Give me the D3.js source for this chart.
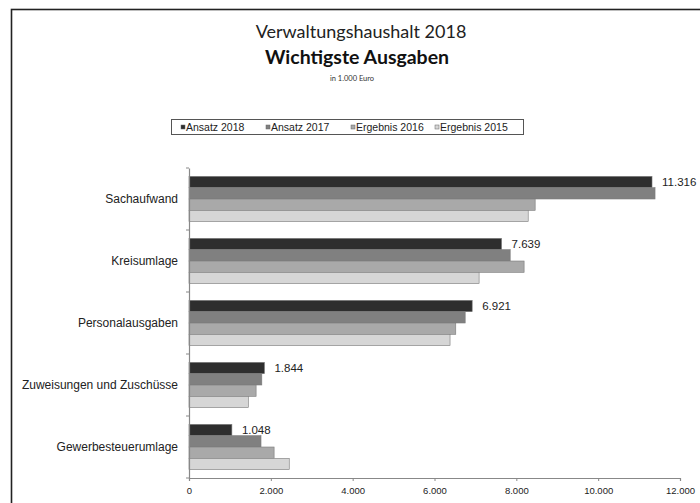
<!DOCTYPE html>
<html>
<head>
<meta charset="utf-8">
<script src="https://cdn.jsdelivr.net/npm/d3@7"></script>
<style>
  body { margin: 0; background: #fff; overflow: hidden; }
  svg { display: block; }
</style>
</head>
<body>
<div id="chart"></div>
<script>
// ---- data (in 1.000 Euro) ----
var categories = ["Sachaufwand", "Kreisumlage", "Personalausgaben", "Zuweisungen und Zuschüsse", "Gewerbesteuerumlage"];
var seriesNames = ["Ansatz 2018", "Ansatz 2017", "Ergebnis 2016", "Ergebnis 2015"];
var ansatz2018 = [11316, 7639, 6921, 1844, 1048];
var ansatz2017 = [11390, 7850, 6750, 1780, 1760];
var ergebnis2016 = [8460, 8190, 6520, 1640, 2080];
var ergebnis2015 = [8290, 7090, 6380, 1450, 2450];
var xTicks = [0, 2000, 4000, 6000, 8000, 10000, 12000];

var seriesValues = [ansatz2018, ansatz2017, ergebnis2016, ergebnis2015];
var seriesColors = ["#2e2e2e", "#808080", "#a9a9a9", "#d6d6d6"];

var svgWidth = 700, svgHeight = 503;
var margin = { top: 168, right: 20, bottom: 25, left: 189 };
var width = 680 - margin.left;
var height = 478 - margin.top;

var svg = d3.select("#chart").append("svg")
  .attr("width", svgWidth).attr("height", svgHeight);

// outer frame (runs off the right / bottom edge)
svg.append("rect")
  .attr("x", 11.5).attr("y", 9.5)
  .attr("width", 900).attr("height", 700)
  .attr("fill", "none").attr("stroke", "#222").attr("stroke-width", 1.6);

// titles
var titleFont = "Lato, 'Open Sans', sans-serif";
svg.append("text").attr("x", 361).attr("y", 38).attr("text-anchor", "middle")
  .style("font-family", titleFont).style("font-size", "18px").attr("fill", "#222")
  .text("Verwaltungshaushalt 2018");
svg.append("text").attr("x", 357).attr("y", 64).attr("text-anchor", "middle")
  .style("font-family", titleFont).style("font-size", "19.5px").style("font-weight", "bold").attr("fill", "#111")
  .text("Wichtigste Ausgaben");
svg.append("text").attr("x", 352).attr("y", 81).attr("text-anchor", "middle")
  .style("font-family", titleFont).style("font-size", "7.5px").attr("fill", "#333")
  .text("in 1.000 Euro");

// legend
var legend = svg.append("g");
legend.append("rect").attr("x", 171.5).attr("y", 119.5).attr("width", 352).attr("height", 15)
  .attr("fill", "#fff").attr("stroke", "#555").attr("stroke-width", 1);
var legendX = [183, 268, 353, 437];
seriesNames.forEach(function (name, i) {
  var g = legend.append("g").attr("transform", "translate(" + legendX[i] + ",127)");
  g.append("rect").attr("x", -2).attr("y", -2).attr("width", 4).attr("height", 4)
    .attr("fill", seriesColors[i]).attr("stroke", "#666").attr("stroke-width", 0.5);
  g.append("text").attr("x", 3).attr("y", 3.5)
    .style("font-family", "'Liberation Sans', Arial, sans-serif").style("font-size", "10.5px").attr("fill", "#222")
    .text(name);
});

var chartGroup = svg.append("g").attr("transform", "translate(" + margin.left + "," + margin.top + ")");

var xScale = d3.scaleLinear().domain([0, 12000]).range([0, width]);
var yScale = d3.scaleBand().domain(categories).range([0, height])
  .paddingInner(0.27).paddingOuter(0.135);
var ySub = d3.scaleBand().domain(d3.range(seriesNames.length)).range([0, yScale.bandwidth()]);

var fmt = d3.formatLocale({ decimal: ",", thousands: ".", grouping: [3], currency: ["", "€"] }).format(",d");

// bars
seriesValues.forEach(function (vals, s) {
  chartGroup.append("g").selectAll("rect")
    .data(vals)
    .enter()
    .append("rect")
    .attr("x", 0)
    .attr("y", function (d, i) { return yScale(categories[i]) + ySub(s); })
    .attr("width", function (d) { return xScale(d); })
    .attr("height", ySub.bandwidth())
    .attr("fill", seriesColors[s])
    .attr("stroke", "#7a7a7a")
    .attr("stroke-width", 0.6);
});

// value labels for Ansatz 2018
chartGroup.append("g").selectAll("text")
  .data(ansatz2018)
  .enter()
  .append("text")
  .attr("x", function (d) { return xScale(d) + 10; })
  .attr("y", function (d, i) { return yScale(categories[i]) + ySub(0) + ySub.bandwidth() / 2 + 4; })
  .style("font-family", "'Liberation Sans', Arial, sans-serif").style("font-size", "11.5px").attr("fill", "#222")
  .text(function (d) { return fmt(d); });

// axes
var xAxis = chartGroup.append("g")
  .attr("transform", "translate(0," + height + ")")
  .call(d3.axisBottom(xScale).tickValues(xTicks).tickSize(3).tickFormat(fmt));
var yAxis = chartGroup.append("g")
  .call(d3.axisLeft(yScale).tickSize(0).tickPadding(11));

// category boundary ticks on y axis
chartGroup.append("g").selectAll("line")
  .data(d3.range(categories.length + 1))
  .enter()
  .append("line")
  .attr("x1", -3).attr("x2", 0)
  .attr("y1", function (i) { return i * yScale.step(); })
  .attr("y2", function (i) { return i * yScale.step(); })
  .attr("stroke", "#888");

[xAxis, yAxis].forEach(function (a) {
  a.select(".domain").attr("stroke", "#888").attr("stroke-width", 1.2);
  a.selectAll(".tick line").attr("stroke", "#888");
  a.selectAll("text").style("font-family", "'Liberation Sans', Arial, sans-serif").attr("fill", "#222");
});
xAxis.selectAll("text").style("font-size", "9.5px").attr("dy", "1.1em");
yAxis.selectAll("text").style("font-size", "12px");
</script>
</body>
</html>
